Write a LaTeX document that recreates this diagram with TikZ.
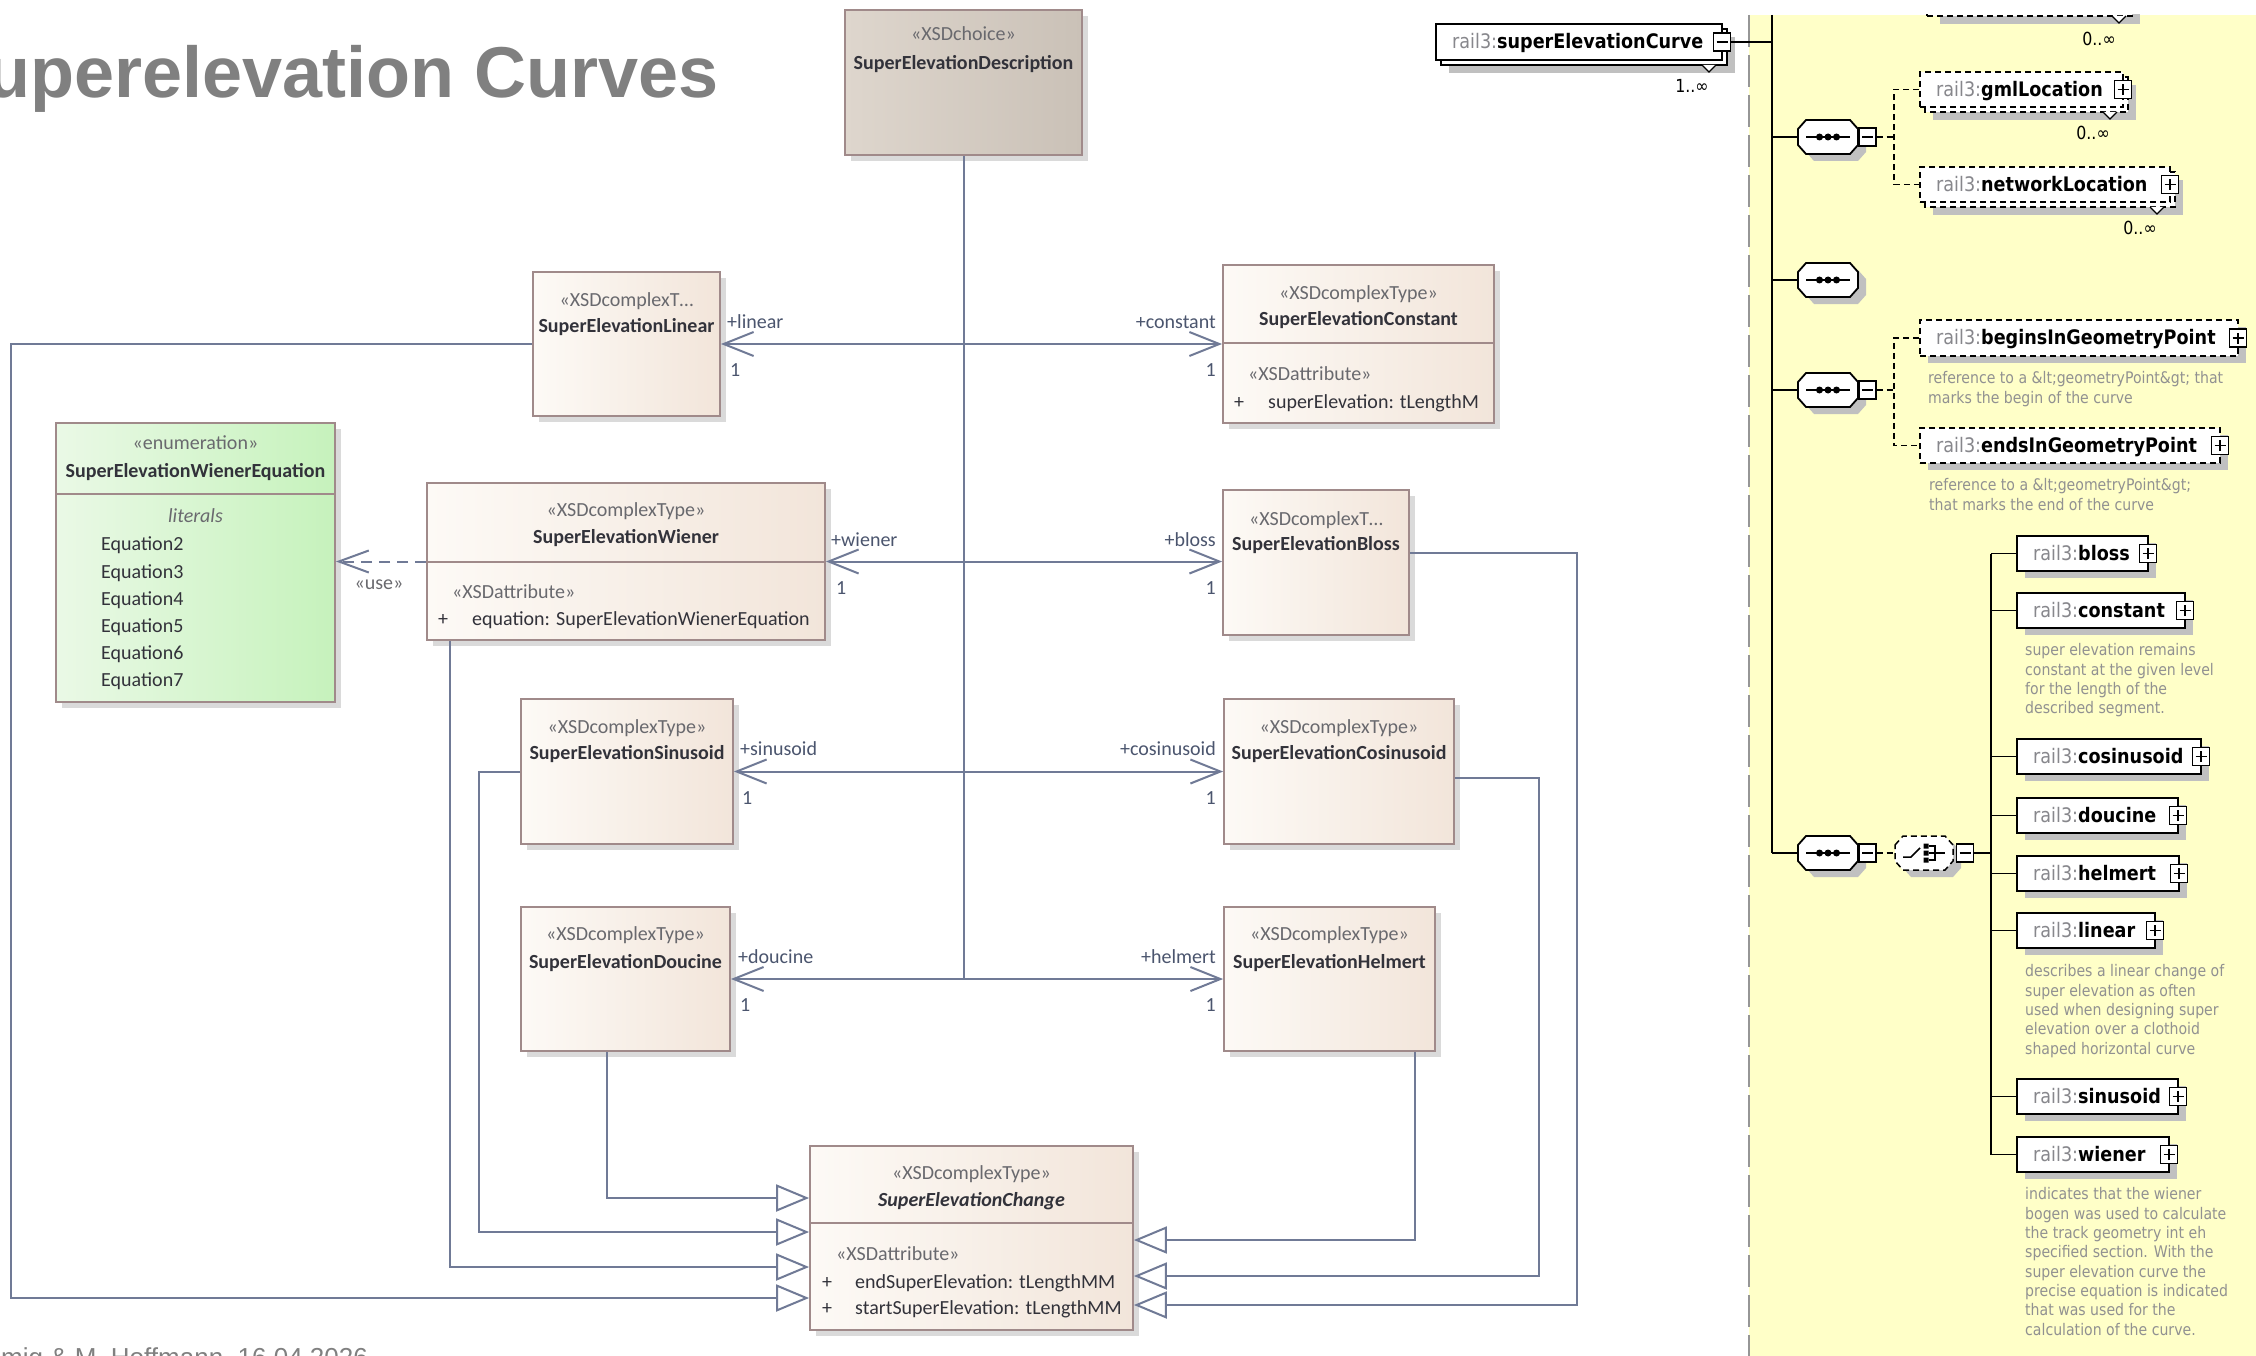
\documentclass[tikz,border=0pt]{standalone}
\usepackage{fontspec}
\setmainfont{Carlito}
\newfontfamily\xsdf[FakeStretch=0.88]{DejaVu Sans}
\newfontfamily\arialf{Liberation Sans}
\usetikzlibrary{arrows.meta}
\definecolor{lnc}{RGB}{112,122,150}
\definecolor{bdc}{RGB}{160,138,138}
\definecolor{fl}{RGB}{253,250,246}
\definecolor{fr}{RGB}{242,229,218}
\definecolor{dl}{RGB}{222,214,205}
\definecolor{dr}{RGB}{202,193,183}
\definecolor{gl}{RGB}{234,249,230}
\definecolor{gr}{RGB}{198,242,188}
\definecolor{shd}{RGB}{218,218,218}
\definecolor{stc}{RGB}{105,105,110}
\definecolor{nmc}{RGB}{50,50,58}
\definecolor{lbc}{RGB}{75,85,110}
\definecolor{ttc}{RGB}{128,128,128}
\definecolor{yel}{RGB}{255,255,200}
\definecolor{xgr}{RGB}{135,135,140}
\definecolor{ann}{RGB}{145,145,145}
\definecolor{xsh}{RGB}{192,192,192}
\definecolor{dsh}{RGB}{150,150,150}

\newcommand\ubox[6]{%
  \fill[ushadow] (#3+6,#4+6) rectangle (#5+6,#6+6);
  \node[#2, minimum width={#5-#3}, minimum height={#6-#4}] (#1) at ({(#3+#5)/2},{(#4+#6)/2}) {};}
\newcommand\xel[7]{%
  \fill[xsh] (#2+8,#3+7) rectangle (#4+8,#5+7);
  \node[xbox,#7,minimum width={#4-#2},minimum height={#5-#3}] (#1) at ({(#2+#4)/2},{(#3+#5)/2}) {};
  \node[xtxt] (#1-t) at (#2+16,{(#3+#5)/2}) {{\color{xgr}rail3:}\textbf{#6}};
  \node[plusb] (#1-b) at (#4,{(#3+#5)/2}) {};}
\newcommand\xelm[9]{%
  \fill[xsh] (#2+13,#3+13) rectangle (#4+13,#5+13);
  \draw[xbox,#7,fill=white] (#2+5,#3+5) rectangle (#4+5,#5+5);
  \node[xbox,#7,minimum width={#4-#2},minimum height={#5-#3}] (#1) at ({(#2+#4)/2},{(#3+#5)/2}) {};
  \draw[line width=1.2pt, fill=white] (#4-20,#5+5) -- (#4-13,#5+12) -- (#4-6,#5+5);
  \node[xtxt] (#1-t) at (#2+16,{(#3+#5)/2}) {{\color{xgr}rail3:}\textbf{#6}};
  \node[#8] (#1-b) at (#4,{(#3+#5)/2}) {};
  \node[mult] (#1-n) at (#4-30,#5+26) {#9};}
\newcommand\oct[4]{%
  \draw[#1] (#2-#4,#3-8) -- (#2-#4+8,#3-17) -- (#2+#4-8,#3-17) -- (#2+#4,#3-8) -- (#2+#4,#3+8) -- (#2+#4-8,#3+17) -- (#2-#4+8,#3+17) -- (#2-#4,#3+8) -- cycle;}
\newcommand\seqoct[3]{%
  \oct{fill=xsh,draw=none}{#2+8}{#3+7}{30}
  \node[inner sep=0, minimum width=60pt, minimum height=34pt] (#1) at (#2,#3) {};
  \oct{xline,fill=white}{#2}{#3}{30}
  \draw[line width=1.6pt] (#2-22,#3) -- (#2+22,#3);
  \fill (#2-8.5,#3) circle (3.5pt) (#2,#3) circle (3.5pt) (#2+8.5,#3) circle (3.5pt);}
\newcommand\annot[4]{%
  \foreach \annl [count=\i] in {#4} {\node[anntxt] (#1-\i) at (#2,{#3+(\i-1)*19.3}) {\annl};}}

\begin{document}
\begin{tikzpicture}[x=1pt,y=-1pt,
  umlbox/.style={draw=bdc, line width=1.8pt, left color=fl, right color=fr, inner sep=0},
  descbox/.style={umlbox, left color=dl, right color=dr},
  enumbox/.style={umlbox, left color=gl, right color=gr},
  ushadow/.style={fill=shd},
  tshift/.style={yshift=-4.5pt},
  ster/.style={tshift, inner sep=0, font=\fontsize{20}{24}\selectfont, text=stc, anchor=mid},
  cname/.style={tshift, inner sep=0, font=\fontsize{20}{24}\selectfont\bfseries, text=nmc, anchor=mid},
  sterw/.style={tshift, inner sep=0, font=\fontsize{20}{24}\selectfont, text=stc, anchor=mid west},
  attrw/.style={tshift, inner sep=0, font=\fontsize{20}{24}\selectfont, text=nmc, anchor=mid west},
  lblw/.style={tshift, inner sep=0, font=\fontsize{20}{24}\selectfont, text=lbc, anchor=mid west},
  lble/.style={tshift, inner sep=0, font=\fontsize{20}{24}\selectfont, text=lbc, anchor=mid east},
  divl/.style={draw=bdc, line width=1.8pt},
  uline/.style={draw=lnc, line width=2pt},
  assoc/.style={uline, {Straight Barb[length=30pt,width=24pt]}-{Straight Barb[length=30pt,width=24pt]}},
  gen/.style={uline, -{Triangle[open,length=33pt,width=27pt,fill=white]}},
  usedep/.style={uline, dash pattern=on 11pt off 7pt, -{Straight Barb[length=30pt,width=22pt]}},
  xbox/.style={draw=black, line width=1.6pt, fill=white, inner sep=0},
  xdashed/.style={dash pattern=on 6pt off 4pt},
  xline/.style={draw=black, line width=1.8pt},
  xdl/.style={draw=black, line width=1.5pt, dash pattern=on 6pt off 4pt},
  xtxt/.style={tshift, inner sep=0, font=\xsdf\fontsize{20}{24}\selectfont, anchor=mid west},
  mult/.style={tshift, inner sep=0, font=\xsdf\fontsize{18}{22}\selectfont, anchor=mid},
  anntxt/.style={yshift=-3.5pt, inner sep=0, font=\xsdf\fontsize{16}{19}\selectfont, text=ann, anchor=mid west},
  pmbase/.style={draw=black, fill=white, line width=1.3pt, minimum width=17pt, minimum height=18pt, inner sep=0},
  plusb/.style={pmbase, path picture={\draw[line width=1.3pt] ([xshift=-5.5pt]path picture bounding box.center) -- ([xshift=5.5pt]path picture bounding box.center) ([yshift=-5.5pt]path picture bounding box.center) -- ([yshift=5.5pt]path picture bounding box.center);}},
  minusb/.style={pmbase, path picture={\draw[line width=1.3pt] ([xshift=-5.5pt]path picture bounding box.center) -- ([xshift=5.5pt]path picture bounding box.center);}}
]
\path[use as bounding box] (0,0) rectangle (2256,1356);
\clip (0,0) rectangle (2256,1356);
\fill[white] (0,0) rectangle (2256,1356);

% ---------- title and footer
\node[inner sep=0, anchor=base east, text=ttc, font=\arialf\bfseries\fontsize{72}{80}\selectfont] (title) at (719,98) {Superelevation Curves};
\node[inner sep=0, anchor=base west, text=ttc, font=\arialf\fontsize{26}{30}\selectfont] (foot) at (1,1366) {mig \& M. Hoffmann, 16.04.2026};

% ---------- UML boxes
\ubox{desc}{descbox}{845}{10}{1082}{155}
\node[ster] (desc-s) at (963.5,34) {«XSDchoice»};
\node[cname] (desc-n) at (963.5,63) {SuperElevationDescription};

\ubox{lin}{umlbox}{533}{272}{720}{416}
\node[ster] (lin-s) at (626.5,300) {«XSDcomplexT…};
\node[cname] (lin-n) at (626.5,326) {SuperElevationLinear};

\ubox{con}{umlbox}{1223}{265}{1494}{423}
\node[ster] (con-s) at (1358.5,293) {«XSDcomplexType»};
\node[cname] (con-n) at (1358.5,319) {SuperElevationConstant};
\draw[divl] (con.west |- 0,343) -- (con.east |- 0,343);
\node[sterw] (con-a) at (1248,374) {«XSDattribute»};
\node[attrw] (con-p) at (1234,402) {+};
\node[attrw] (con-v) at (1268,402) {superElevation: tLengthM};

\ubox{blo}{umlbox}{1223}{490}{1409}{635}
\node[ster] (blo-s) at (1316,519) {«XSDcomplexT…};
\node[cname] (blo-n) at (1316,544) {SuperElevationBloss};

\ubox{enu}{enumbox}{56}{423}{335}{702}
\node[ster] (enu-s) at (195.5,443) {«enumeration»};
\node[cname] (enu-n) at (195.5,471) {SuperElevationWienerEquation};
\draw[divl] (enu.west |- 0,494) -- (enu.east |- 0,494);
\node[ster, font=\fontsize{20}{24}\selectfont\itshape] (enu-l) at (195.5,516) {literals};
\foreach \q [count=\k] in {2,...,7} {\node[attrw] (enu-e\k) at (101,{544+(\k-1)*27.2}) {Equation\q};}

\ubox{wie}{umlbox}{427}{483}{825}{640}
\node[ster] (wie-s) at (626,510) {«XSDcomplexType»};
\node[cname] (wie-n) at (626,537) {SuperElevationWiener};
\draw[divl] (wie.west |- 0,562) -- (wie.east |- 0,562);
\node[sterw] (wie-a) at (452,592) {«XSDattribute»};
\node[attrw] (wie-p) at (438,619) {+};
\node[attrw] (wie-v) at (472,619) {equation: SuperElevationWienerEquation};

\ubox{sin}{umlbox}{521}{699}{733}{844}
\node[ster] (sin-s) at (627,727) {«XSDcomplexType»};
\node[cname] (sin-n) at (627,753) {SuperElevationSinusoid};

\ubox{cos}{umlbox}{1224}{699}{1454}{844}
\node[ster] (cos-s) at (1339,727) {«XSDcomplexType»};
\node[cname] (cos-n) at (1339,753) {SuperElevationCosinusoid};

\ubox{dou}{umlbox}{521}{907}{730}{1051}
\node[ster] (dou-s) at (625.5,934) {«XSDcomplexType»};
\node[cname] (dou-n) at (625.5,962) {SuperElevationDoucine};

\ubox{hel}{umlbox}{1224}{907}{1435}{1051}
\node[ster] (hel-s) at (1329.5,934) {«XSDcomplexType»};
\node[cname] (hel-n) at (1329.5,962) {SuperElevationHelmert};

\ubox{chg}{umlbox}{810}{1146}{1133}{1330}
\node[ster] (chg-s) at (971.5,1173) {«XSDcomplexType»};
\node[cname, font=\fontsize{20}{24}\selectfont\bfseries\itshape] (chg-n) at (971.5,1200) {SuperElevationChange};
\draw[divl] (chg.west |- 0,1223) -- (chg.east |- 0,1223);
\node[sterw] (chg-a) at (836,1254) {«XSDattribute»};
\node[attrw] (chg-p1) at (822,1282) {+};
\node[attrw] (chg-v1) at (855,1282) {endSuperElevation: tLengthMM};
\node[attrw] (chg-p2) at (822,1308) {+};
\node[attrw] (chg-v2) at (855,1308) {startSuperElevation: tLengthMM};

% ---------- UML connectors
\draw[uline] (desc.south) -- (desc.south |- dou.east);
\draw[assoc] (lin.east) -- (con.west);
\draw[assoc] (wie.east) -- (wie.east -| blo.west);
\draw[assoc] (sin.east) -- (cos.west);
\draw[assoc] (dou.east) -- (hel.west);
\draw[usedep] (wie.west) -- (wie.west -| enu.east);
\node[lblw] (l1a) at (727,322) {+linear};      \node[lblw] (l1b) at (730,370) {1};
\node[lble] (l2a) at (1216,322) {+constant};   \node[lble] (l2b) at (1216,370) {1};
\node[lblw] (l3a) at (831,540) {+wiener};      \node[lblw] (l3b) at (836,588) {1};
\node[lble] (l4a) at (1216,540) {+bloss};      \node[lble] (l4b) at (1216,588) {1};
\node[lblw] (l5a) at (740,749) {+sinusoid};    \node[lblw] (l5b) at (742,798) {1};
\node[lble] (l6a) at (1216,749) {+cosinusoid}; \node[lble] (l6b) at (1216,798) {1};
\node[lblw] (l7a) at (738,957) {+doucine};     \node[lblw] (l7b) at (740,1005) {1};
\node[lble] (l8a) at (1216,957) {+helmert};    \node[lble] (l8b) at (1216,1005) {1};
\node[ster] (usel) at (379,583) {«use»};

\draw[gen] (lin.west) -- (11,344) -- (11,1298) -- (chg.west |- 0,1298);
\draw[gen] (wie.south -| 450,0) -- (450,1267) -- (chg.west |- 0,1267);
\draw[gen] (sin.west) -- (479,771.5) -- (479,1232) -- (chg.west |- 0,1232);
\draw[gen] (dou.south -| 607,0) -- (607,1198) -- (chg.west |- 0,1198);
\draw[gen] (hel.south -| 1415,0) -- (1415,1240) -- (chg.east |- 0,1240);
\draw[gen] (cos.east |- 0,778) -- (1539,778) -- (1539,1276) -- (chg.east |- 0,1276);
\draw[gen] (blo.east |- 0,553) -- (1577,553) -- (1577,1305) -- (chg.east |- 0,1305);

% ---------- XSD panel
\begin{scope}
\clip (1400,15) rectangle (2256,1356);
\fill[yel] (1749,15) rectangle (2256,1356);
\draw[draw=dsh, line width=2pt, dash pattern=on 32pt off 8pt] (1749,15) -- (1749,1356);
\coordinate (vtop) at (1772,15);
\coordinate (vbot) at (1772,853);
\coordinate (dv1) at (1894,0);
\coordinate (dv2) at (1991,0);

% partially visible top element
\fill[xsh] (1940,-20) rectangle (2140,24);
\node[xbox,xdashed,minimum width=205pt,minimum height=41pt] (xtop) at (2029.5,-4.5) {};
\draw[line width=1.2pt, fill=white] (2112,16) -- (2119,23) -- (2126,16);
\node[mult] (xtop-n) at (2099,39) {0..∞};

\xelm{xsec}{1436}{24}{1722}{60}{superElevationCurve}{solid}{minusb}{1..∞}
\xelm{xgml}{1920}{72}{2123}{107}{gmlLocation}{xdashed}{plusb}{0..∞}
\xelm{xnet}{1920}{167}{2170}{202}{networkLocation}{xdashed}{plusb}{0..∞}
\xel{xbeg}{1920}{320}{2238}{356}{beginsInGeometryPoint}{xdashed}
\xel{xend}{1920}{428}{2220}{463}{endsInGeometryPoint}{xdashed}

\draw[xline] (xsec-b.east) -- (xsec-b.east -| vtop);
\draw[xline] (vtop) -- (vbot);

\seqoct{s1}{1828}{137}
\seqoct{s2}{1828}{280}
\seqoct{s3}{1828}{390}
\seqoct{s4}{1828}{853}
\node[minusb] (s1-m) at (1867.5,137) {};
\node[minusb] (s3-m) at (1867.5,390) {};
\node[minusb] (s4-m) at (1867.5,853) {};
\foreach \s in {s1,s2,s3,s4} {\draw[xline] (\s.west -| vtop) -- (\s.west);}

\draw[xdl] (s1-m.east) -- (s1-m.east -| dv1);
\draw[xdl] (xgml.west) -- (xgml.west -| dv1) -- (xnet.west -| dv1) -- (xnet.west);
\draw[xdl] (s3-m.east) -- (s3-m.east -| dv1);
\draw[xdl] (xbeg.west) -- (xbeg.west -| dv1) -- (xend.west -| dv1) -- (xend.west);

% choice
\oct{fill=xsh,draw=none}{1924+8}{853+7}{29}
\node[inner sep=0,minimum width=58pt,minimum height=34pt] (ch) at (1924,853) {};
\oct{xdl,fill=white}{1924}{853}{29}
\draw[line width=1.5pt] (1903,857) -- (1911,857) -- (1920,848);
\fill (1923.5,843.5) rectangle (1928.5,848.5) (1923.5,850.5) rectangle (1928.5,855.5) (1923.5,857.5) rectangle (1928.5,862.5);
\draw[line width=1.3pt] (1929,846) -- (1935,846) -- (1935,860) -- (1929,860) (1929,853) -- (1945,853);
\node[minusb] (ch-m) at (1965,853) {};
\draw[xdl] (s4-m.east) -- (ch.west);
\draw[xline] (ch-m.east) -- (ch-m.east -| dv2);

\xel{xb}{2017}{536}{2148}{571}{bloss}{solid}
\xel{xc}{2017}{593}{2185}{628}{constant}{solid}
\xel{xco}{2017}{739}{2201}{774}{cosinusoid}{solid}
\xel{xd}{2017}{798}{2178}{833}{doucine}{solid}
\xel{xh}{2017}{856}{2179}{891}{helmert}{solid}
\xel{xl}{2017}{913}{2155}{948}{linear}{solid}
\xel{xs}{2017}{1079}{2178}{1114}{sinusoid}{solid}
\xel{xw}{2017}{1137}{2169}{1172}{wiener}{solid}
\draw[xline] (xb.west -| dv2) -- (xw.west -| dv2);
\foreach \e in {xb,xc,xco,xd,xh,xl,xs,xw} {\draw[xline] (\e.west -| dv2) -- (\e.west);}

\annot{a1}{1928}{378}{{reference to a \&lt;geometryPoint\&gt; that},{marks the begin of the curve}}
\annot{a2}{1929}{485}{{reference to a \&lt;geometryPoint\&gt;},{that marks the end of the curve}}
\annot{a3}{2025}{650}{{super elevation remains},{constant at the given level},{for the length of the},{described segment.}}
\annot{a4}{2025}{971}{{describes a linear change of},{super elevation as often},{used when designing super},{elevation over a clothoid},{shaped horizontal curve}}
\annot{a5}{2025}{1194}{{indicates that the wiener},{bogen was used to calculate},{the track geometry int eh},{specified section. With the},{super elevation curve the},{precise equation is indicated},{that was used for the},{calculation of the curve.}}
\end{scope}
\end{tikzpicture}
\end{document}
